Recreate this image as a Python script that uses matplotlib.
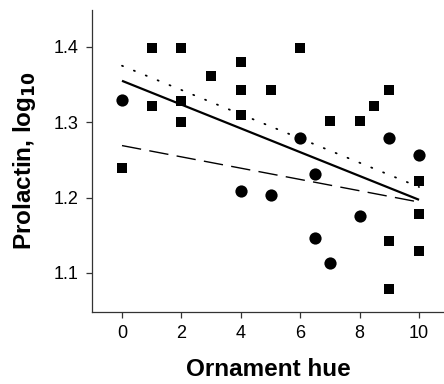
import matplotlib
matplotlib.use("Agg")
import matplotlib.pyplot as plt
import numpy as np

plt.rcParams['font.family'] = ['Liberation Sans', 'DejaVu Sans']

# Circles
circ_x = [0, 4, 5, 6, 6.5, 6.5, 7, 8, 9, 10]
circ_y = [1.330, 1.209, 1.204, 1.279, 1.231, 1.146, 1.113, 1.176, 1.279, 1.256]

# Squares
sq_x = [0, 1, 2, 6, 1, 2, 2, 3, 4, 4, 4, 5, 7, 8, 8.5, 9, 10, 10, 9, 10, 9]
sq_y = [1.239, 1.398, 1.398, 1.398, 1.322, 1.328, 1.300, 1.362, 1.380, 1.343, 1.310,
        1.343, 1.301, 1.301, 1.322, 1.343, 1.222, 1.178, 1.142, 1.129, 1.078]

# Regression lines (endpoints at x=0 and x=10)
line_x = [0, 10]
solid_y = [1.355, 1.197]
dotted_y = [1.375, 1.214]
dashed_y = [1.269, 1.194]

xticks = [0, 2, 4, 6, 8, 10]
yticks = [1.1, 1.2, 1.3, 1.4]

fig = plt.figure(figsize=(4.44, 3.84), dpi=100)
ax = fig.add_axes([92/444, 1 - 311.5/384, 1 - 92/444, (311.5 - 10)/384])

ax.plot(sq_x, sq_y, linestyle='none', marker='s', markersize=7.6, color='black', markeredgewidth=0)
ax.plot(circ_x, circ_y, linestyle='none', marker='o', markersize=8.8, color='black', markeredgewidth=0)

ax.plot(line_x, solid_y, color='black', linewidth=1.6, solid_capstyle='butt')
ax.plot(line_x, dotted_y, color='black', linewidth=1.3, linestyle=(0, (0.6, 6.5)), dash_capstyle='round')
ax.plot(line_x, dashed_y, color='black', linewidth=1.0, linestyle=(0, (14, 6)))

ax.set_xlim(-1.01, 10.84)
ax.set_ylim(1.0487, 1.449)
ax.set_xticks(xticks)
ax.set_xticklabels([str(t) for t in xticks])
ax.set_yticks(yticks)
ax.set_yticklabels([f"{t:.1f}" for t in yticks])

for s in ['top', 'right']:
    ax.spines[s].set_visible(False)
for s in ['left', 'bottom']:
    ax.spines[s].set_linewidth(0.9)
    ax.spines[s].set_color('#333333')

ax.tick_params(direction='out', length=4, width=0.9, labelsize=13, pad=6, colors='#333333', labelcolor='black')

ax.set_xlabel('Ornament hue', fontsize=17.5, fontweight='bold', labelpad=11)
ax.set_ylabel('Prolactin, log$_{\\mathbf{10}}$', fontsize=17.5, fontweight='bold', labelpad=11)

fig.savefig('out.png', dpi=100)
